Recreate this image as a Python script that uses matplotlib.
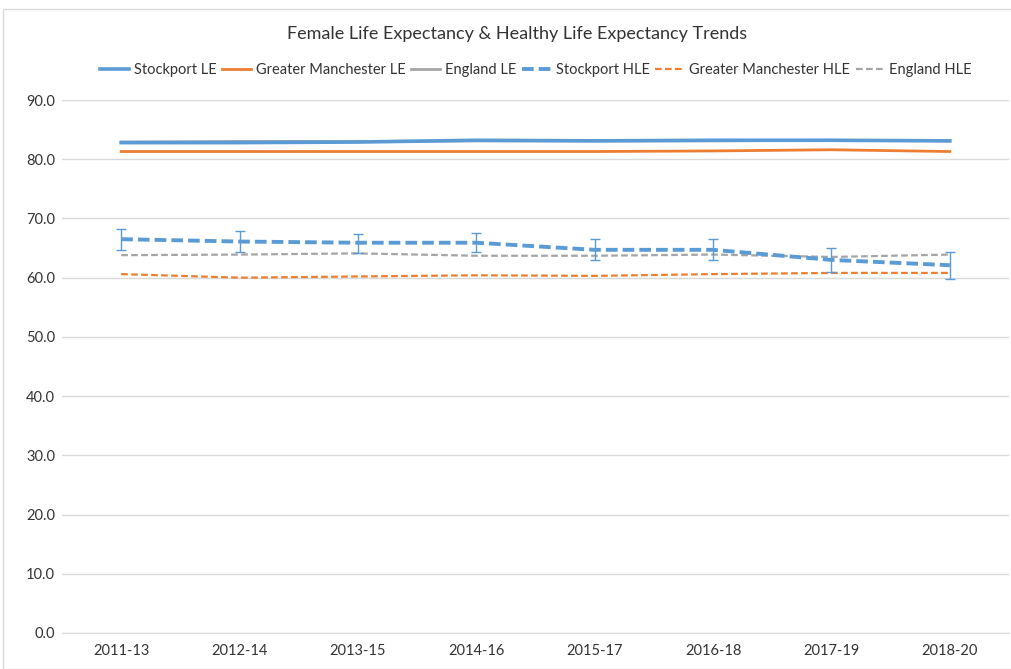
import matplotlib
matplotlib.use("Agg")
import matplotlib.pyplot as plt
from matplotlib.patches import Rectangle
import numpy as np

periods = ["2011-13", "2012-14", "2013-15", "2014-16", "2015-17", "2016-18", "2017-19", "2018-20"]
stockport_le = [82.8, 82.8, 82.9, 83.2, 83.1, 83.2, 83.2, 83.1]
gm_le = [81.3, 81.3, 81.3, 81.3, 81.3, 81.4, 81.6, 81.3]
england_le = [82.9, 83.0, 83.0, 83.1, 83.1, 83.1, 83.2, 83.1]
stockport_hle = [66.5, 66.1, 65.9, 65.9, 64.7, 64.7, 63.0, 62.1]
stockport_hle_lower = [64.7, 64.4, 64.2, 64.3, 62.9, 62.9, 60.9, 59.7]
stockport_hle_upper = [68.2, 67.8, 67.3, 67.6, 66.5, 66.5, 65.0, 64.4]
gm_hle = [60.6, 60.0, 60.2, 60.4, 60.3, 60.6, 60.8, 60.8]
england_hle = [63.8, 63.9, 64.1, 63.7, 63.7, 63.9, 63.5, 63.9]
yticks = [0, 10, 20, 30, 40, 50, 60, 70, 80, 90]

BLUE = "#5B9BD5"
ORANGE = "#ED7D31"
GREY = "#A5A5A5"

plt.rcParams["font.family"] = ["Lato", "DejaVu Sans"]

fig = plt.figure(figsize=(10.11, 6.69), dpi=100)
fig.patches.append(Rectangle((3 / 1011, 0), 1.0, 1 - 9 / 669, transform=fig.transFigure,
                             fill=False, edgecolor="#D9D9D9", linewidth=1.0))
ax = fig.add_axes([62 / 1011, 1 - 633 / 669, (1009 - 62) / 1011, (633 - 100) / 669])

x = np.arange(len(periods))
ax.plot(x, stockport_le, color=BLUE, lw=2.6, label="Stockport LE", zorder=4)
ax.plot(x, gm_le, color=ORANGE, lw=2.0, label="Greater Manchester LE", zorder=3)
ax.plot(x, england_le, color=GREY, lw=2.0, label="England LE", zorder=3)
yerr = [np.array(stockport_hle) - np.array(stockport_hle_lower),
        np.array(stockport_hle_upper) - np.array(stockport_hle)]
ax.errorbar(x, stockport_hle, yerr=yerr, fmt="none", ecolor=BLUE, elinewidth=1.0,
            capsize=3.5, capthick=1.0, zorder=5)
ax.plot(x, stockport_hle, color=BLUE, lw=2.8, ls=(0, (3, 1.3)), label="Stockport HLE", zorder=5)
ax.plot(x, gm_hle, color=ORANGE, lw=1.6, ls=(0, (3, 1.5)), label="Greater Manchester HLE", zorder=3)
ax.plot(x, england_hle, color=GREY, lw=1.6, ls=(0, (3, 1.5)), label="England HLE", zorder=3)

ax.set_xlim(-0.5, len(periods) - 0.5)
ax.set_ylim(0, 90)
ax.set_yticks(yticks)
ax.set_yticklabels([f"{v:.1f}" for v in yticks])
ax.set_xticks(x)
ax.set_xticklabels(periods)
ax.tick_params(axis="both", length=0, labelsize=10.5, colors="#333333", pad=5)
ax.tick_params(axis="x", pad=8)
ax.grid(axis="y", color="#D9D9D9", lw=1.0)
ax.set_axisbelow(True)
for s in ax.spines.values():
    s.set_visible(False)
ax.spines["bottom"].set_visible(True)
ax.spines["bottom"].set_color("#D9D9D9")

fig.text(517 / 1011, 1 - 34 / 669, "Female Life Expectancy & Healthy Life Expectancy Trends",
         ha="center", va="center", fontsize=13, color="#333333")
fig.legend(loc="center", bbox_to_anchor=(536 / 1011, 1 - 70 / 669), ncol=6, frameon=False,
           fontsize=10.5, handlelength=2.0, handletextpad=0.3, columnspacing=0.4,
           labelcolor="#333333")

fig.savefig("out.png", dpi=100)
